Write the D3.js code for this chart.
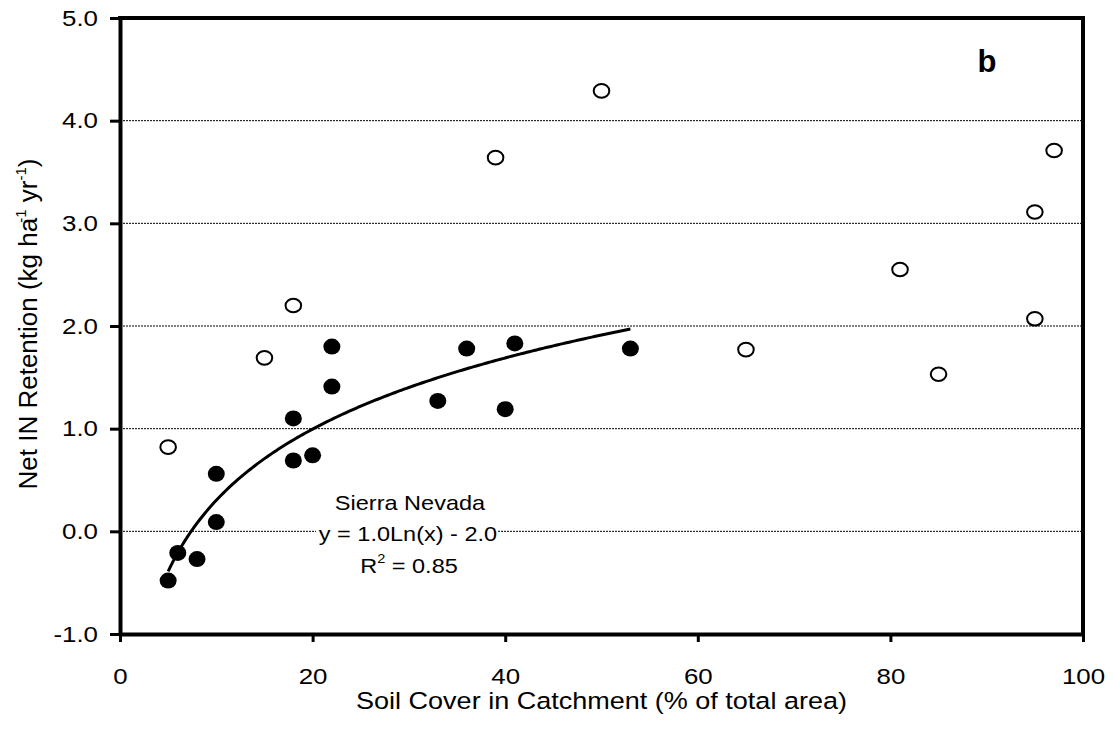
<!DOCTYPE html>
<html>
<head>
<meta charset="utf-8">
<script src="https://cdn.jsdelivr.net/npm/d3@7"></script>
<style>
  html, body { margin: 0; padding: 0; background: #fff; }
  svg { display: block; font-family: "Liberation Sans", Arial, sans-serif; }
</style>
</head>
<body>
<svg id="chart" width="1115" height="738"></svg>
<script>
// Sierra Nevada catchments (filled markers)
const sierraX = [5, 6, 8, 10, 10, 18, 18, 20, 22, 22, 33, 36, 40, 41, 53];
const sierraY = [-0.48, -0.21, -0.27, 0.09, 0.56, 1.10, 0.69, 0.74, 1.80, 1.41, 1.27, 1.78, 1.19, 1.83, 1.78];

// Other catchments (open markers)
const otherX = [5, 15, 18, 39, 50, 65, 81, 85, 95, 95, 97];
const otherY = [0.82, 1.69, 2.20, 3.64, 4.29, 1.77, 2.55, 1.53, 2.07, 3.11, 3.71];

// Logarithmic fit: y = a*ln(x) + b
const fitA = 1.0;
const fitB = -2.0;
const fitRange = [5, 53];
const fitLabel = ["Sierra Nevada", "y = 1.0Ln(x) - 2.0", "0.85"];

const xTicks = [0, 20, 40, 60, 80, 100];
const yTicks = [-1, 0, 1, 2, 3, 4, 5];
const gridValues = [0, 1, 2, 3, 4];

const svg = d3.select("#chart");
const plotL = 120, plotR = 1083, plotT = 18, plotB = 634;
const wide = 1.15; // horizontal widening of the lettering

const x = d3.scaleLinear().domain([0, 100]).range([plotL, plotR]);
const y = d3.scaleLinear().domain([-1, 5]).range([plotB, plotT]);

// widen a text element about its own anchor point
function widen(sel, s) {
  sel.each(function () {
    const t = d3.select(this);
    const ax = +t.attr("x") || 0, ay = +t.attr("y") || 0;
    t.attr("transform", `translate(${ax},${ay}) scale(${s},1) translate(${-ax},${-ay})`);
  });
}

// dashed horizontal gridlines
svg.append("g")
  .selectAll("line")
  .data(gridValues)
  .join("line")
  .attr("x1", plotL).attr("x2", plotR)
  .attr("y1", d => y(d)).attr("y2", d => y(d))
  .attr("stroke", "#000")
  .attr("stroke-width", 1)
  .attr("stroke-dasharray", "2,1");

// fitted curve
const fitPts = d3.range(fitRange[0], fitRange[1] + 0.001, 0.25).map(v => [v, fitA * Math.log(v) + fitB]);
svg.append("path")
  .datum(fitPts)
  .attr("fill", "none")
  .attr("stroke", "#000")
  .attr("stroke-width", 3)
  .attr("d", d3.line().x(d => x(d[0])).y(d => y(d[1])));

// equation label with white backing over the gridline
const lab = svg.append("g").attr("font-size", 21).attr("fill", "#000").attr("text-anchor", "middle");
lab.append("rect")
  .attr("x", 316).attr("y", 520).attr("width", 182).attr("height", 24)
  .attr("fill", "#fff");
lab.append("text").attr("x", 410).attr("y", 510).text(fitLabel[0]);
lab.append("text").attr("x", 408).attr("y", 541).text(fitLabel[1]);
const r2 = lab.append("text").attr("x", 409).attr("y", 573);
r2.append("tspan").text("R");
r2.append("tspan").attr("font-size", 13).attr("dy", -10).text("2");
r2.append("tspan").attr("dy", 10).text(" = " + fitLabel[2]);
widen(lab.selectAll("text"), 1.12);

// open markers
svg.append("g")
  .selectAll("ellipse")
  .data(otherX.map((v, i) => [v, otherY[i]]))
  .join("ellipse")
  .attr("cx", d => x(d[0])).attr("cy", d => y(d[1]))
  .attr("rx", 7.8).attr("ry", 6.8)
  .attr("fill", "#fff").attr("stroke", "#000").attr("stroke-width", 2);

// filled markers
svg.append("g")
  .selectAll("ellipse")
  .data(sierraX.map((v, i) => [v, sierraY[i]]))
  .join("ellipse")
  .attr("cx", d => x(d[0])).attr("cy", d => y(d[1]))
  .attr("rx", 8.5).attr("ry", 8)
  .attr("fill", "#000");

// axes
const tickFmt = d => d3.format(".1f")(d).replace("\u2212", "-");
const xAxis = svg.append("g")
  .attr("transform", `translate(0,${plotB})`)
  .call(d3.axisBottom(x).tickValues(xTicks).tickSize(8).tickSizeOuter(0).tickPadding(26));
const yAxis = svg.append("g")
  .attr("transform", `translate(${plotL},0)`)
  .call(d3.axisLeft(y).tickValues(yTicks).tickFormat(tickFmt).tickSize(10).tickSizeOuter(0).tickPadding(12));

[xAxis, yAxis].forEach(g => {
  g.select(".domain").attr("stroke-width", 4).attr("stroke", "#000");
  g.selectAll(".tick line").attr("stroke-width", 3).attr("stroke", "#000");
  g.selectAll(".tick text").attr("font-size", 22.5).attr("fill", "#000")
    .attr("font-family", "Liberation Sans, Arial, sans-serif");
  widen(g.selectAll(".tick text"), wide);
});

// frame top and right
svg.append("path")
  .attr("d", `M${plotL - 2},${plotT} H${plotR} V${plotB + 2}`)
  .attr("fill", "none").attr("stroke", "#000").attr("stroke-width", 4);

// panel letter
svg.append("text")
  .attr("x", 987).attr("y", 72)
  .attr("text-anchor", "middle")
  .attr("font-size", 31).attr("font-weight", "bold")
  .text("b");

// axis titles
const xt = svg.append("text")
  .attr("x", (plotL + plotR) / 2).attr("y", 709)
  .attr("text-anchor", "middle").attr("font-size", 23.5)
  .text("Soil Cover in Catchment (% of total area)");
widen(xt, wide);

const yt = svg.append("text")
  .attr("transform", `translate(37,324) rotate(-90)`)
  .attr("text-anchor", "middle").attr("font-size", 26);
yt.append("tspan").text("Net IN Retention (kg ha");
yt.append("tspan").attr("font-size", 15).attr("dy", -11).attr("dx", -5).text("-1");
yt.append("tspan").attr("dy", 11).text(" yr");
yt.append("tspan").attr("font-size", 15).attr("dy", -11).text("-1");
yt.append("tspan").attr("dy", 11).text(")");
</script>
</body>
</html>
